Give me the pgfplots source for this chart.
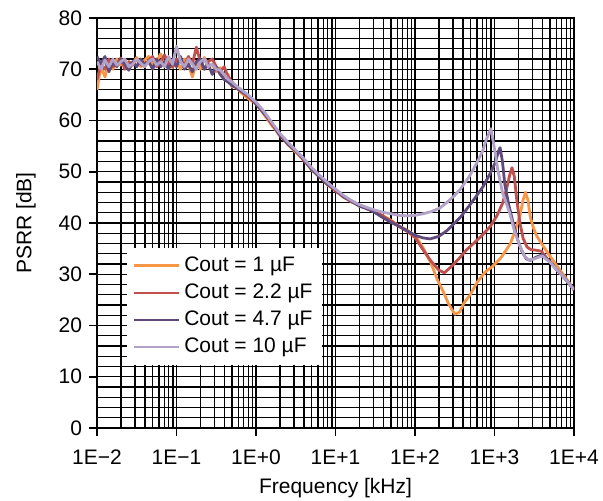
\documentclass[border=0pt]{standalone}
\usepackage{fontspec}
\setmainfont{Liberation Sans}
\usepackage{pgfplots}
\pgfplotsset{compat=1.18}
\usepackage{pgfplotstable}
\definecolor{cor}{HTML}{F79646}
\definecolor{cred}{HTML}{C0504D}
\definecolor{cpur}{HTML}{604A7B}
\definecolor{clav}{HTML}{B3A2C7}

\pgfplotstableread{
lx y
-2.00 66.0
-1.95 70.5
-1.90 68.5
-1.85 71.5
-1.80 70.0
-1.75 72.0
-1.70 70.8
-1.65 71.5
-1.60 70.0
-1.55 71.2
-1.50 72.3
-1.45 70.5
-1.40 71.8
-1.35 72.5
-1.30 70.8
-1.25 71.5
-1.20 73.0
-1.15 71.0
-1.10 72.0
-1.05 70.3
-1.00 71.8
-0.95 70.0
-0.90 72.0
-0.85 71.0
-0.80 68.5
-0.75 71.5
-0.70 70.0
-0.65 72.3
-0.60 70.5
-0.55 71.0
-0.50 69.5
-0.45 70.3
-0.40 68.5
-0.35 69.0
-0.30 66.5
-0.25 66.8
-0.20 65.6
-0.10 64.3
0.00 63.3
0.10 61.2
0.20 59.0
0.30 57.3
0.40 55.3
0.50 53.8
0.60 52.4
0.70 50.3
0.80 49.1
0.90 47.4
1.00 46.4
1.10 45.0
1.20 44.3
1.30 43.3
1.40 42.9
1.50 42.1
1.60 41.4
1.70 40.5
1.80 39.4
1.90 38.6
2.00 37.6
2.10 35.2
2.20 32.2
2.28 29.0
2.35 26.8
2.42 24.3
2.50 22.2
2.56 22.6
2.62 24.5
2.69 25.9
2.78 28.4
2.88 30.4
2.98 31.6
3.08 33.2
3.15 34.8
3.20 36.0
3.26 38.5
3.32 41.5
3.36 44.5
3.39 46.0
3.42 44.5
3.45 41.2
3.49 39.0
3.53 37.5
3.62 35.3
3.70 33.5
3.80 31.3
3.90 29.2
4.00 27.0
}\dataO

\pgfplotstableread{
lx y
-2.00 68.0
-1.95 71.0
-1.90 70.0
-1.85 72.0
-1.80 70.5
-1.75 71.0
-1.70 72.2
-1.65 70.0
-1.60 71.5
-1.55 70.8
-1.50 72.0
-1.45 71.0
-1.40 70.5
-1.35 71.8
-1.30 72.5
-1.25 70.5
-1.20 71.5
-1.15 72.8
-1.10 71.0
-1.05 70.5
-1.00 72.0
-0.95 71.5
-0.90 70.8
-0.85 72.5
-0.80 71.0
-0.75 74.3
-0.70 71.5
-0.65 70.0
-0.60 71.5
-0.55 72.0
-0.50 70.5
-0.45 69.5
-0.40 70.5
-0.35 68.5
-0.30 67.5
-0.25 66.3
-0.20 66.0
-0.10 64.6
0.00 63.4
0.10 61.6
0.20 59.3
0.30 57.0
0.40 55.6
0.50 54.1
0.60 52.2
0.70 50.6
0.80 48.9
0.90 47.7
1.00 46.2
1.10 45.2
1.20 44.1
1.30 43.5
1.40 42.7
1.50 42.3
1.60 41.3
1.70 40.4
1.80 39.3
1.90 38.4
2.00 37.2
2.10 34.8
2.20 32.6
2.30 30.8
2.37 30.3
2.45 31.4
2.55 33.0
2.65 34.8
2.75 36.2
2.85 37.7
2.95 39.4
3.03 41.4
3.10 43.8
3.15 46.5
3.19 49.3
3.22 50.8
3.25 49.0
3.28 44.5
3.32 40.0
3.36 37.0
3.41 35.3
3.46 34.8
3.52 34.7
3.59 34.5
3.68 32.7
3.78 30.9
3.90 28.9
4.00 27.0
}\dataR

\pgfplotstableread{
lx y
-2.00 72.5
-1.95 71.0
-1.90 72.5
-1.85 69.5
-1.80 71.5
-1.75 70.5
-1.70 72.0
-1.65 71.0
-1.60 69.8
-1.55 71.5
-1.50 70.5
-1.45 72.0
-1.40 70.8
-1.35 71.5
-1.30 70.0
-1.25 72.0
-1.20 70.5
-1.15 71.5
-1.10 70.0
-1.05 71.8
-1.00 70.5
-0.95 72.5
-0.90 70.0
-0.85 71.0
-0.80 69.5
-0.75 71.5
-0.70 72.0
-0.65 70.0
-0.60 71.0
-0.55 69.0
-0.50 70.5
-0.45 69.0
-0.40 68.0
-0.35 67.5
-0.30 66.8
-0.25 66.5
-0.20 65.8
-0.10 64.9
0.00 63.2
0.10 61.4
0.20 59.5
0.30 57.2
0.40 55.4
0.50 54.0
0.60 52.5
0.70 50.4
0.80 49.0
0.90 47.5
1.00 46.5
1.10 45.1
1.20 44.3
1.30 43.3
1.40 42.8
1.50 42.0
1.60 41.0
1.70 40.1
1.81 39.3
1.90 38.5
2.00 37.6
2.10 37.1
2.19 36.9
2.30 37.4
2.40 38.5
2.50 40.0
2.58 41.3
2.65 42.7
2.76 45.0
2.86 47.2
2.95 49.8
3.01 51.8
3.05 54.0
3.07 54.7
3.10 52.0
3.13 47.5
3.18 43.5
3.23 40.3
3.29 36.8
3.34 34.6
3.40 33.0
3.45 32.7
3.52 33.3
3.60 33.8
3.70 32.4
3.82 30.3
3.92 28.5
4.00 27.0
}\dataP

\pgfplotstableread{
lx y
-2.00 71.5
-1.95 70.0
-1.90 71.8
-1.85 70.5
-1.80 72.0
-1.75 70.8
-1.70 71.5
-1.65 72.0
-1.60 70.5
-1.55 71.0
-1.50 72.0
-1.45 71.2
-1.40 70.5
-1.35 71.5
-1.30 72.0
-1.25 70.8
-1.20 71.5
-1.15 70.5
-1.10 72.5
-1.05 71.0
-1.00 74.5
-0.95 71.5
-0.90 70.5
-0.85 72.0
-0.80 71.0
-0.75 70.0
-0.70 71.5
-0.65 72.0
-0.60 70.5
-0.55 71.0
-0.50 70.0
-0.45 69.8
-0.40 69.0
-0.35 68.0
-0.30 67.5
-0.25 66.8
-0.20 66.2
-0.10 65.0
0.00 63.6
0.10 61.8
0.20 59.6
0.30 57.5
0.40 55.8
0.50 54.2
0.60 52.6
0.70 50.8
0.80 49.3
0.90 47.9
1.00 46.6
1.10 45.4
1.20 44.4
1.30 43.6
1.40 43.0
1.50 42.5
1.60 42.1
1.70 41.8
1.80 41.5
1.90 41.4
2.00 41.5
2.10 41.8
2.20 42.2
2.31 42.9
2.40 44.0
2.50 45.4
2.57 46.6
2.68 49.0
2.78 51.8
2.85 54.0
2.90 56.4
2.955 58.4
3.00 54.5
3.04 50.5
3.10 46.0
3.19 42.0
3.25 38.5
3.32 35.5
3.38 33.5
3.43 32.8
3.50 33.0
3.60 33.6
3.70 32.3
3.82 30.3
3.92 28.5
4.00 27.0
}\dataL

\begin{document}
\begin{tikzpicture}
\useasboundingbox (-48.5pt,-36pt) rectangle (253pt,214pt);
\begin{axis}[
  scale only axis, width=238.5pt, height=205pt,
  xmode=log, xmin=1e-2, xmax=1e4, ymin=0, ymax=80,
  xtick={1e-2,1e-1,1,10,100,1000,10000},
  xticklabels={1E−2,1E−1,1E+0,1E+1,1E+2,1E+3,1E+4},
  minor xtick={0.02,0.03,0.04,0.05,0.06,0.07,0.08,0.09,
    0.2,0.3,0.4,0.5,0.6,0.7,0.8,0.9,
    2,3,4,5,6,7,8,9,
    20,30,40,50,60,70,80,90,
    200,300,400,500,600,700,800,900,
    2000,3000,4000,5000,6000,7000,8000,9000},
  ytick={0,10,...,80},
  minor ytick={2,4,6,8,12,14,16,18,22,24,26,28,32,34,36,38,42,44,46,48,52,54,56,58,62,64,66,68,72,74,76,78},
  grid=both,
  major grid style={black, line width=0.7pt},
  minor grid style={black, line width=0.65pt},
  axis line style={black, line width=1.1pt},
  tick align=outside, major tick length=4pt, minor tick length=0pt,
  xtick pos=left, ytick pos=left,
  tick style={black, line width=0.8pt},
  font=\fontsize{10.5}{12}\selectfont,
  /pgf/number format/assume math mode=true,
  xticklabel style={yshift=-3.5pt},
  xlabel={Frequency [kHz]}, ylabel={PSRR [dB]},
  xlabel style={yshift=0pt},
  ylabel style={yshift=4.5pt},
  legend style={at={(0.063,0.153)}, anchor=south west, draw=none, fill=white,
    font=\fontsize{10.5}{12}\selectfont, row sep=0.7pt, inner sep=2.5pt},
  legend cell align=left,
  legend image code/.code={\draw[#1] (0pt,0pt) -- (22.5pt,0pt);},
  every axis plot/.append style={line width=1.4pt, line join=round},
]
\addplot[cor] table[x expr={10^(\thisrow{lx})}, y=y] {\dataO};
\addplot[cred] table[x expr={10^(\thisrow{lx})}, y=y] {\dataR};
\addplot[cpur] table[x expr={10^(\thisrow{lx})}, y=y] {\dataP};
\addplot[clav] table[x expr={10^(\thisrow{lx})}, y=y] {\dataL};
\legend{Cout = 1 µF, Cout = 2.2 µF, Cout = 4.7 µF, Cout = 10 µF}
\end{axis}
\end{tikzpicture}
\end{document}
